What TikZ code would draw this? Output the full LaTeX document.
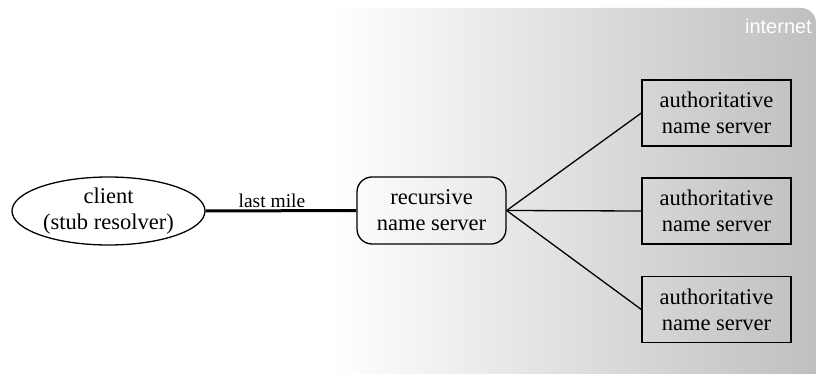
\documentclass[tikz,border=0pt]{standalone}
\usepackage{fontspec}
\setmainfont{Liberation Serif}
\newfontfamily\inetfont{Liberation Sans}
\usetikzlibrary{shapes.geometric}
\begin{document}
\begin{tikzpicture}[x=1pt,y=-1pt,
  lbl/.style={font=\fontsize{22.5}{26}\selectfont, align=center, inner sep=0pt},
  boxline/.style={draw=black, line width=1.3pt},
  authbox/.style={lbl, boxline, rectangle, minimum width=149pt, minimum height=66pt},
  recbox/.style={lbl, boxline, rectangle, rounded corners=15pt, minimum width=149pt, minimum height=67pt},
  clientell/.style={lbl, boxline, ellipse, minimum width=193pt, minimum height=68pt},
  conn/.style={draw=black, line width=1.3pt},
  mile/.style={draw=black, line width=3pt}]
\useasboundingbox (0,0) rectangle (816,374);
\shade[left color=white, right color=gray!50]
  (330,374) -- (330,8) [rounded corners=15pt] -- (816,8) [sharp corners] -- (816,374) -- cycle;
\node[anchor=base east, text=white, font=\inetfont\fontsize{20}{24}\selectfont, inner sep=0pt] (inet) at (812,34) {internet};
\node[clientell] (client) at (108.5,211) {client\\(stub resolver)};
\node[recbox] (rec) at (431.5,210.5) {recursive\\name server};
\node[authbox] (a1) at (716.5,113) {authoritative\\name server};
\node[authbox] (a2) at (716.5,211) {authoritative\\name server};
\node[authbox] (a3) at (716.5,309.5) {authoritative\\name server};
\draw[mile] (client.east) -- node[above, pos=0.44, font=\fontsize{19.5}{22}\selectfont, inner sep=2pt] (lm) {last mile} (rec.west);
\draw[conn] (rec.east) -- (a1.west);
\draw[conn] (rec.east) -- (a2.west);
\draw[conn] (rec.east) -- (a3.west);
\end{tikzpicture}
\end{document}
